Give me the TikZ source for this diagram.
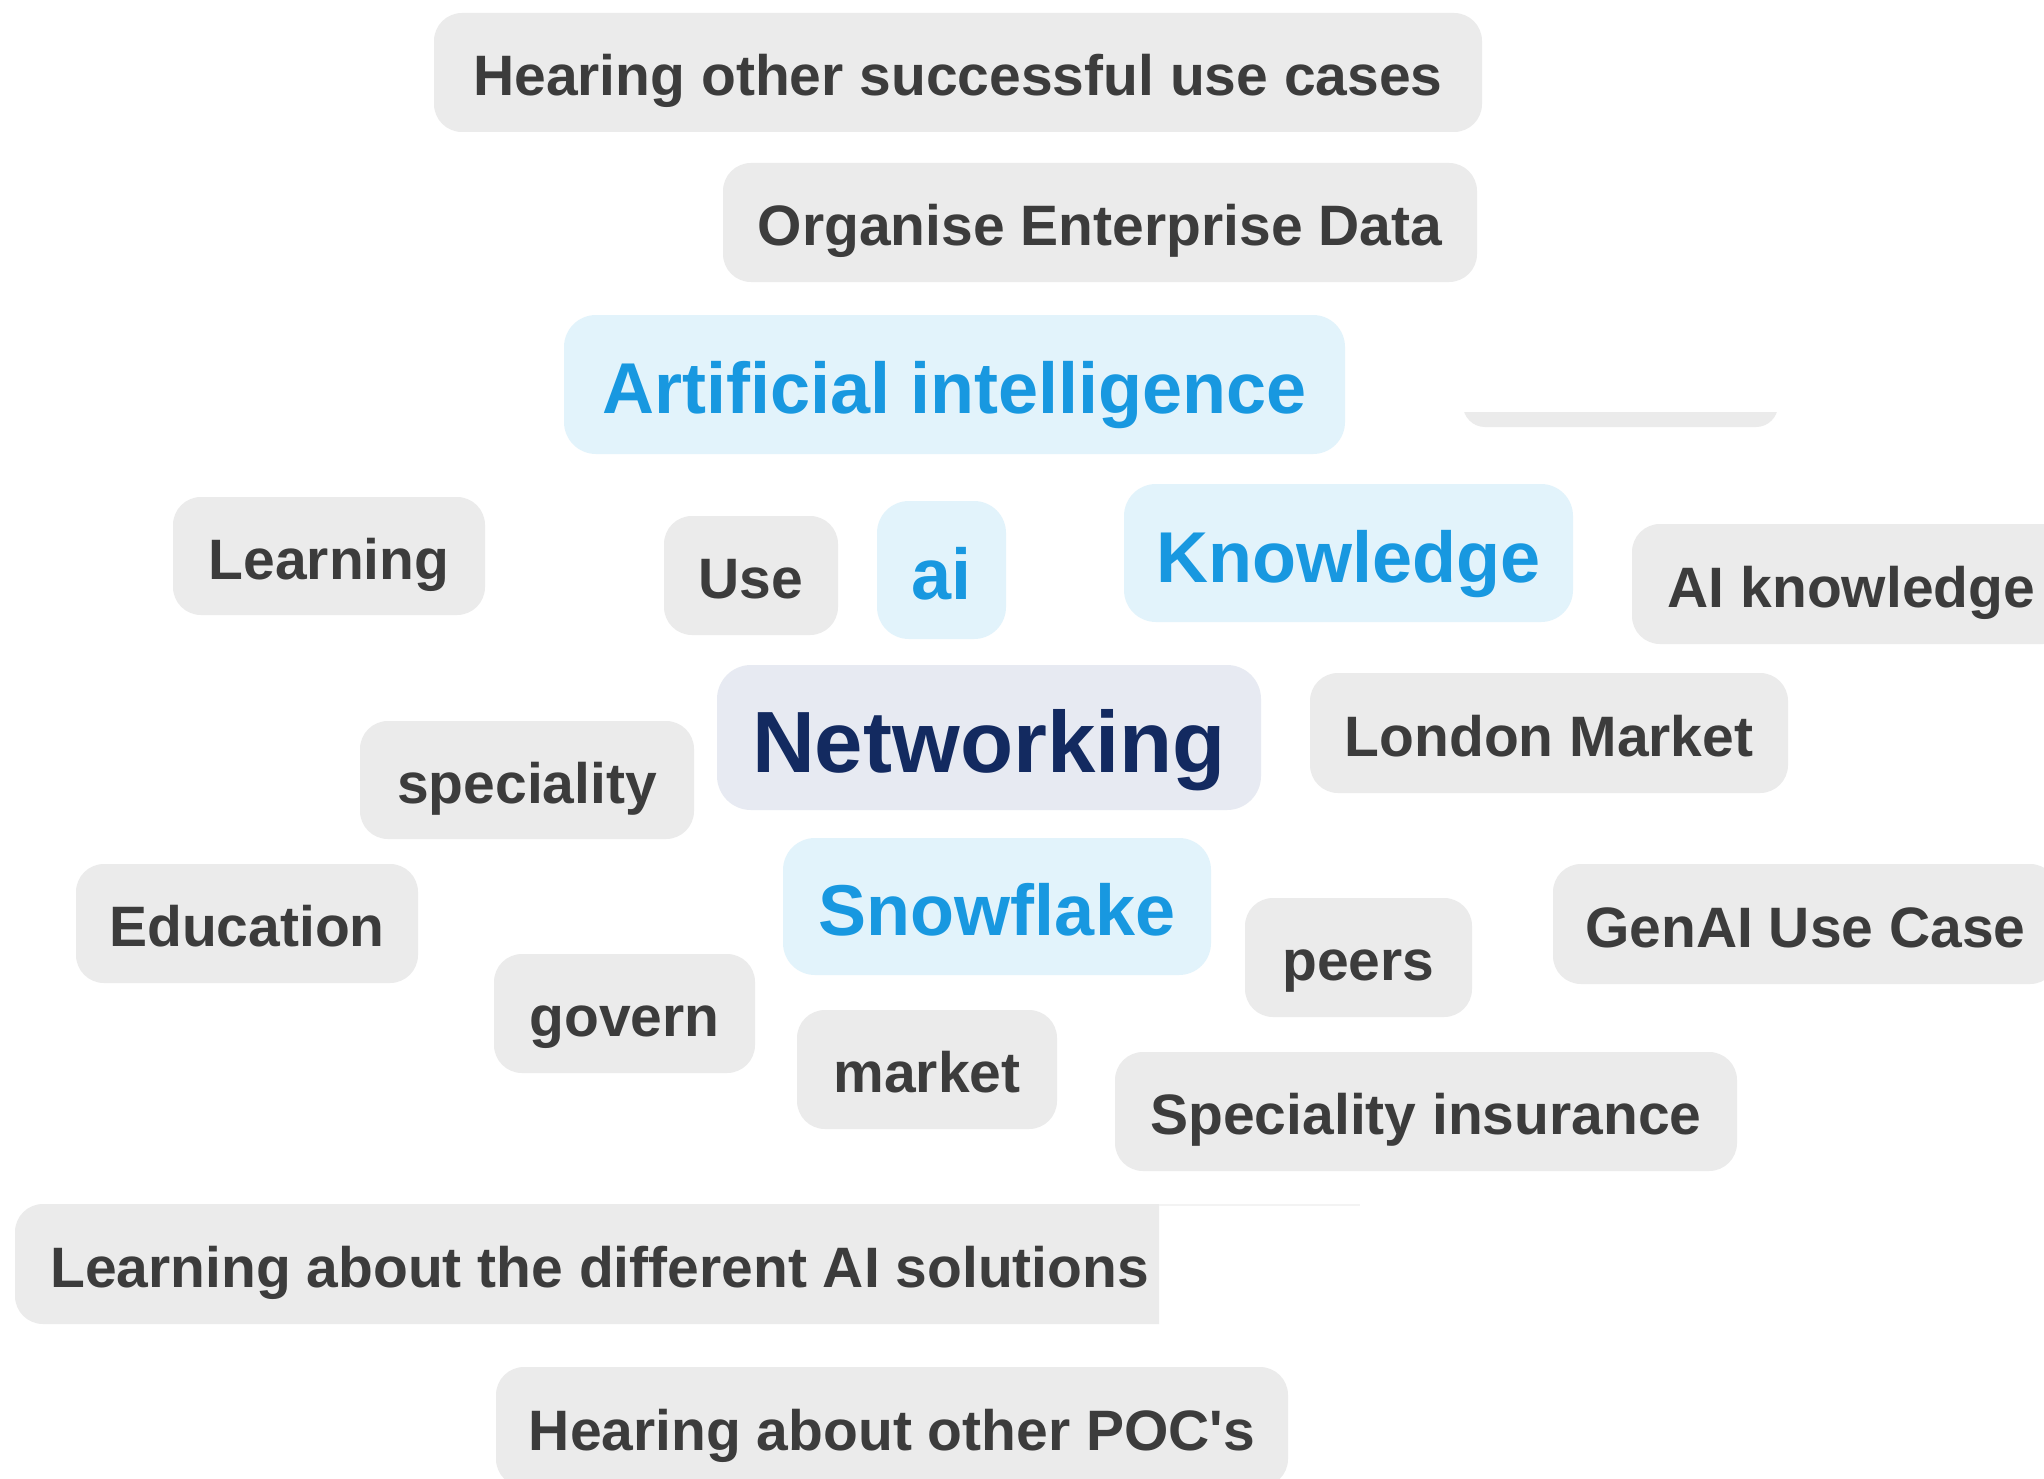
\documentclass[tikz,border=0pt]{standalone}
\usepackage{fontspec}
\newfontfamily\pf{Liberation Sans}
\definecolor{pillgray}{RGB}{235,235,235}
\definecolor{pilltext}{RGB}{60,60,60}
\definecolor{bluefill}{RGB}{226,243,251}
\definecolor{bluetext}{RGB}{24,152,224}
\definecolor{netfill}{RGB}{231,234,242}
\definecolor{nettext}{RGB}{19,42,96}
\definecolor{faint}{RGB}{243,243,243}
\begin{document}
\begin{tikzpicture}[x=1pt,y=-1pt,
  base/.style={rectangle, inner sep=0pt, text depth=0pt},
  graypill/.style={base, rounded corners=28pt, fill=pillgray, text=pilltext,
    font=\pf\bfseries\fontsize{57}{60}\selectfont, text height=46pt},
  bluepill/.style={base, rounded corners=32pt, fill=bluefill, text=bluetext,
    font=\pf\bfseries\fontsize{72}{76}\selectfont, text height=58pt},
  netpill/.style={base, rounded corners=34pt, fill=netfill, text=nettext,
    font=\pf\bfseries\fontsize{87}{90}\selectfont, text height=70pt},
  sz/.style 2 args={minimum width=#1pt, minimum height=#2pt}
]
\useasboundingbox (0,0) rectangle (2044,1479);
\clip (0,0) rectangle (2044,1479);
\fill[white] (0,0) rectangle (2044,1479);

\node[graypill, sz={1048}{119}] (hosuc) at (958,72.5) {Hearing other successful use cases};
\node[graypill, sz={754}{119}] (oed) at (1100,222.5) {Organise Enterprise Data};
\node[bluepill, sz={781}{139}] (artint) at (954.5,384.5) {Artificial intelligence};

\begin{scope}
  \clip (1450,412) rectangle (1800,440);
  \fill[pillgray, rounded corners=22pt] (1463,330) rectangle (1778,427);
\end{scope}

\node[graypill, sz={312}{118}] (learning) at (329,556) {Learning};
\node[graypill, sz={174}{119}] (use) at (751,575.5) {Use};
\node[bluepill, sz={129}{138}] (aismall) at (941.5,570) {ai};
\node[bluepill, sz={449}{138}] (knowledge) at (1348.5,553) {Knowledge};
\node[graypill, sz={439}{120}] (aik) at (1851.5,584) {AI knowledge};
\node[graypill, sz={478}{120}] (london) at (1549,733) {London Market};
\node[netpill, sz={544}{145}] (net) at (989,737.5) {Networking};
\node[graypill, sz={334}{118}] (spec) at (527,780) {speciality};
\node[graypill, sz={342}{119}] (edu) at (247,923.5) {Education};
\node[bluepill, sz={428}{137}] (snow) at (997,906.5) {Snowflake};
\node[graypill, sz={227}{119}] (peers) at (1358.5,957.5) {peers};
\node[graypill, sz={505}{120}] (genai) at (1805.5,924) {GenAI Use Case};
\node[graypill, sz={261}{119}] (govern) at (624.5,1013.5) {govern};
\node[graypill, sz={260}{119}] (market) at (927,1069.5) {market};
\node[graypill, sz={622}{119}] (specins) at (1426,1111.5) {Speciality insurance};

\begin{scope}
  \clip (0,1190) rectangle (1159,1340);
  \fill[pillgray, rounded corners=28pt] (15,1204) rectangle (1220,1324);
\end{scope}
\draw[faint, line width=2pt] (1159,1205) -- (1360,1205);
\node[graypill, fill=none, anchor=west] (lab) at (50,1264) {Learning about the different AI solutions};

\node[graypill, sz={792}{120}] (poc) at (892,1427) {Hearing about other POC\textquotesingle s};
\end{tikzpicture}
\end{document}
